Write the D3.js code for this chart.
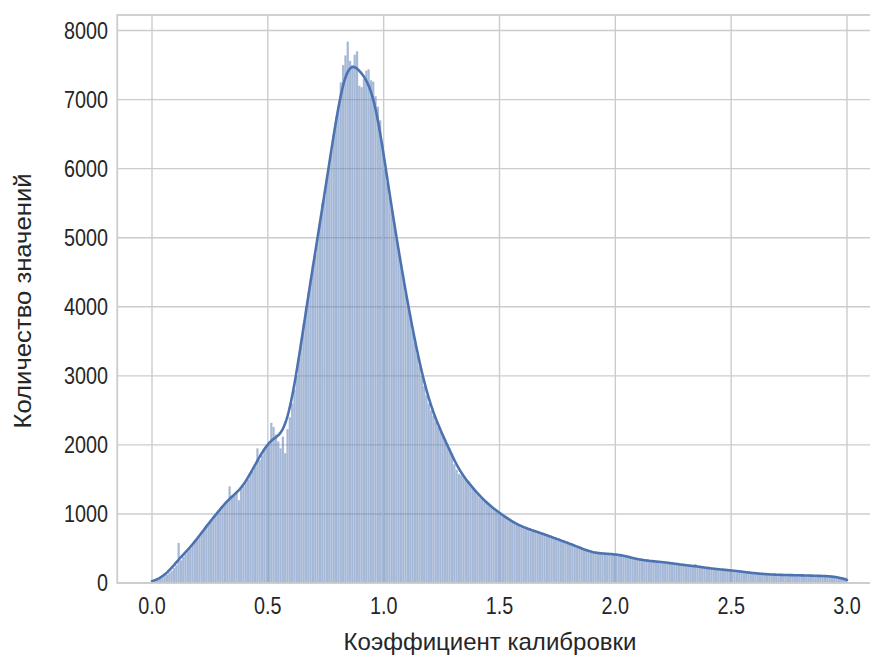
<!DOCTYPE html>
<html>
<head>
<meta charset="utf-8">
<script src="https://cdn.jsdelivr.net/npm/d3@7/dist/d3.min.js"></script>
<style>
  html, body { margin: 0; padding: 0; background: #ffffff; }
  svg { display: block; }
  text { font-family: "Liberation Sans", Arial, sans-serif; fill: #262626; }
</style>
</head>
<body>
<svg id="chart" width="870" height="657"></svg>
<script>
// Histogram of calibration coefficients: 300 bins of width 0.01 on [0, 3]
const binStart = 0;
const binWidth = 0.01;
const counts = [
  12, 30, 45, 65, 80, 100, 120, 150, 180, 220,
  260, 580, 330, 380, 420, 460, 500, 550, 600, 640,
  690, 730, 780, 820, 870, 920, 950, 990, 1030, 1060,
  1100, 1140, 1180, 1400, 1240, 1270, 1300, 1200, 1360, 1400,
  1450, 1500, 1580, 1620, 1690, 1950, 1780, 1850, 1930, 1990,
  2010, 2320, 2260, 2150, 2050, 1950, 2120, 1880, 2230, 2400,
  2600, 2800, 3000, 3250, 3500, 3750, 4000, 4200, 4400, 4600,
  4750, 5000, 5200, 5500, 5600, 5850, 6050, 6250, 6500, 6750,
  6900, 7250, 7500, 7640, 7840, 7560, 7500, 7650, 7700, 7200,
  7180, 7300, 7420, 7440, 7280, 7260, 7050, 6900, 6700, 6350,
  6000, 5800, 5600, 5400, 5200, 5000, 4800, 4600, 4400, 4200,
  4000, 3830, 3650, 3480, 3310, 3150, 3000, 2850, 2720, 2600,
  2500, 2420, 2340, 2260, 2200, 2150, 2080, 2010, 1950, 1880,
  1720, 1640, 1580, 1560, 1530, 1500, 1470, 1430, 1380, 1340,
  1280, 1240, 1210, 1180, 1160, 1130, 1100, 1080, 1050, 1020,
  1000, 980, 960, 930, 910, 880, 860, 850, 830, 810,
  800, 790, 780, 770, 760, 750, 740, 730, 715, 700,
  690, 680, 670, 655, 640, 630, 615, 600, 590, 580,
  570, 560, 545, 530, 515, 500, 480, 465, 450, 440,
  435, 430, 430, 425, 425, 425, 420, 420, 420, 420,
  420, 415, 410, 400, 390, 380, 370, 360, 350, 345,
  335, 330, 325, 320, 320, 315, 315, 310, 310, 310,
  305, 300, 295, 290, 285, 280, 275, 270, 265, 260,
  255, 250, 245, 240, 275, 235, 230, 225, 222, 218,
  214, 210, 206, 202, 198, 195, 192, 190, 188, 185,
  182, 178, 175, 170, 165, 160, 155, 150, 146, 142,
  139, 136, 133, 130, 128, 126, 124, 122, 120, 119,
  118, 117, 116, 116, 115, 115, 114, 113, 112, 111,
  110, 110, 109, 108, 107, 106, 105, 104, 103, 102,
  101, 100, 98, 96, 94, 92, 90, 88, 85, 80
];
const xTicks = [0, 0.5, 1.0, 1.5, 2.0, 2.5, 3.0];
const yTicks = [0, 1000, 2000, 3000, 4000, 5000, 6000, 7000, 8000];
const xLabel = "Коэффициент калибровки";
const yLabel = "Количество значений";

const bins = counts.map((c, i) => ({
  x0: binStart + i * binWidth,
  x1: binStart + (i + 1) * binWidth,
  count: c
}));

const svg = d3.select("#chart");

const x = d3.scaleLinear().domain([-0.15, 3.15]).range([117.25, 881.75]);
const y = d3.scaleLinear().domain([0, 8225]).range([583, 15]);

const gridColor = "#cccccc";
const blue = "#4c72b0";
const tickScaleX = 0.86;
const tickFont = 23;
const labelFont = 24;

// Grid
const grid = svg.append("g");
grid.selectAll("line.gx").data(xTicks).join("line")
  .attr("x1", d => x(d)).attr("x2", d => x(d))
  .attr("y1", y.range()[1]).attr("y2", y.range()[0])
  .attr("stroke", gridColor).attr("stroke-width", 1.4);
grid.selectAll("line.gy").data(yTicks).join("line")
  .attr("x1", x.range()[0]).attr("x2", x.range()[1])
  .attr("y1", d => y(d)).attr("y2", d => y(d))
  .attr("stroke", gridColor).attr("stroke-width", 1.4);

// Histogram bars
svg.append("g").selectAll("rect").data(bins).join("rect")
  .attr("x", d => x(d.x0))
  .attr("width", d => x(d.x1) - x(d.x0))
  .attr("y", d => y(d.count))
  .attr("height", d => y(0) - y(d.count))
  .attr("fill", blue).attr("fill-opacity", 0.5)
  .attr("stroke", "#ffffff").attr("stroke-opacity", 0.35).attr("stroke-width", 0.3);

// Gaussian kernel density over the binned counts, scaled to counts per bin
const bw = 0.035;
const centers = bins.map(b => (b.x0 + b.x1) / 2);
function density(v) {
  let s = 0;
  for (let i = 0; i < counts.length; i++) {
    const z = (v - centers[i]) / bw;
    if (Math.abs(z) < 6) s += counts[i] * Math.exp(-0.5 * z * z);
  }
  return s / (bw * Math.sqrt(2 * Math.PI)) * binWidth;
}
const lo = bins[0].x0, hi = bins[bins.length - 1].x1;
const kdePts = d3.range(0, 601).map(k => {
  const v = lo + (hi - lo) * k / 600;
  return [v, density(v)];
});
svg.append("path")
  .datum(kdePts)
  .attr("fill", "none")
  .attr("stroke", blue)
  .attr("stroke-width", 2.6)
  .attr("stroke-linejoin", "round")
  .attr("stroke-linecap", "round")
  .attr("d", d3.line().x(d => x(d[0])).y(d => y(d[1])));

// Frame
svg.append("rect")
  .attr("x", x.range()[0]).attr("y", y.range()[1])
  .attr("width", x.range()[1] - x.range()[0])
  .attr("height", y.range()[0] - y.range()[1])
  .attr("fill", "none").attr("stroke", gridColor).attr("stroke-width", 1.8);

// Tick labels
const fmtX = d3.format(".1f");
svg.append("g").selectAll("text").data(xTicks).join("text")
  .attr("transform", d => `translate(${x(d)},614) scale(${tickScaleX},1)`)
  .attr("text-anchor", "middle")
  .attr("font-size", tickFont)
  .text(d => fmtX(d));
svg.append("g").selectAll("text").data(yTicks).join("text")
  .attr("transform", d => `translate(108,${y(d) + 8}) scale(${tickScaleX},1)`)
  .attr("text-anchor", "end")
  .attr("font-size", tickFont)
  .text(d => String(d));

// Axis labels
svg.append("text")
  .attr("transform", "translate(490,650)")
  .attr("text-anchor", "middle")
  .attr("font-size", labelFont)
  .text(xLabel);
svg.append("text")
  .attr("transform", "translate(31,301) rotate(-90) scale(1.07,1)")
  .attr("text-anchor", "middle")
  .attr("font-size", labelFont)
  .text(yLabel);
</script>
</body>
</html>
